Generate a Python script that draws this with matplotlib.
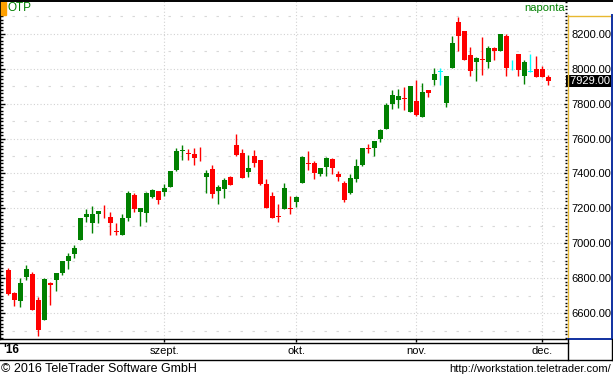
import matplotlib
matplotlib.use('Agg')
import matplotlib.pyplot as plt
import matplotlib.transforms as mtransforms
from matplotlib.lines import Line2D
from matplotlib.patches import Rectangle
from matplotlib.ticker import MultipleLocator, FuncFormatter
import numpy as np

plt.rcParams['font.family'] = ['Liberation Sans', 'DejaVu Sans']

# OTP napi árfolyamok (nyitó, max, min, záró)
opens = [6849, 6719, 6673, 6810, 6826, 6677, 6563, 6776, 6791, 6830,
         6902, 6940, 7020, 7150, 7119, 7170, 7188, 7152, 7068, 7049,
         7146, 7277, 7180, 7176, 7267, 7300, 7294, 7325, 7422, 7527,
         7514, 7512, 7479, 7382, 7426, 7302, 7311, 7380, 7563, 7519,
         7409, 7500, 7477, 7340, 7271, 7155, 7199, 7203, 7239, 7348,
         7460, 7458, 7399, 7436, 7481, 7399, 7348, 7290, 7370, 7450,
         7546, 7544, 7599, 7654, 7799, 7820, 7832, 7753, 7814, 7725,
         7877, 7934, 7982, 7801, 8001, 8264, 8214, 8077, 8037, 8052,
         8035, 8115, 8102, 8186, 8020, 8083, 7959, 7982, 7997, 7997,
         7950]
highs = [6860, 6722, 6803, 6877, 6837, 6696, 6800, 6780, 6832, 6902,
         6944, 6991, 7146, 7197, 7214, 7186, 7220, 7182, 7119, 7169,
         7302, 7290, 7203, 7296, 7311, 7300, 7340, 7416, 7548, 7563,
         7540, 7544, 7553, 7420, 7449, 7334, 7373, 7387, 7626, 7538,
         7506, 7534, 7477, 7367, 7294, 7226, 7346, 7271, 7271, 7500,
         7529, 7471, 7430, 7496, 7489, 7413, 7357, 7397, 7483, 7546,
         7569, 7586, 7652, 7801, 7877, 7883, 7892, 7900, 7934, 7919,
         7877, 8001, 8001, 7957, 8186, 8296, 8214, 8121, 8067, 8178,
         8129, 8125, 8197, 8197, 8049, 8083, 8049, 8083, 8071, 8014,
         7963]
lows = [6705, 6640, 6639, 6791, 6620, 6473, 6560, 6649, 6729, 6820,
        6856, 6915, 7018, 7125, 7062, 7119, 7144, 7049, 7049, 7049,
        7130, 7182, 7100, 7123, 7260, 7226, 7271, 7320, 7416, 7477,
        7477, 7449, 7470, 7290, 7262, 7226, 7262, 7334, 7500, 7373,
        7382, 7439, 7334, 7205, 7148, 7125, 7199, 7169, 7210, 7348,
        7420, 7370, 7386, 7387, 7399, 7359, 7237, 7283, 7351, 7445,
        7519, 7500, 7582, 7652, 7770, 7776, 7763, 7753, 7729, 7721,
        7839, 7904, 7904, 7778, 8001, 8102, 8049, 7959, 7930, 7963,
        8003, 8049, 8102, 7957, 7992, 7957, 7912, 7982, 7953, 7953,
        7906]
closes = [6712, 6677, 6773, 6853, 6620, 6506, 6796, 6765, 6830, 6900,
          6929, 6974, 7144, 7169, 7169, 7186, 7184, 7119, 7064, 7146,
          7290, 7197, 7203, 7290, 7306, 7249, 7317, 7414, 7529, 7531,
          7510, 7489, 7475, 7405, 7281, 7325, 7363, 7334, 7506, 7376,
          7430, 7462, 7340, 7205, 7148, 7151, 7317, 7199, 7264, 7493,
          7456, 7405, 7430, 7487, 7430, 7382, 7247, 7373, 7443, 7546,
          7542, 7586, 7649, 7793, 7849, 7843, 7828, 7900, 7734, 7866,
          7862, 7969, 7982, 7957, 8144, 8188, 8049, 7987, 8058, 8046,
          8115, 8102, 8197, 8005, 8020, 7991, 8039, 7982, 7953, 7953,
          7929]

month_pos = [26, 48, 68, 89]
month_labels = ['szept.', 'okt.', 'nov.', 'dec.']
last_price = 7929.00

W, H = 613, 377
fig = plt.figure(figsize=(W / 100, H / 100), dpi=100)


def fx(px):
    return px / W


def fy(py):
    return 1 - py / H


GREEN = '#008000'
RED = '#ff0000'
CYAN = '#00ffff'
GOLD = '#e8b830'
BLUE = '#1030a0'
GRID = '#d2d2d2'

ax = fig.add_axes([0, fy(339), fx(567), (339 - 1) / H])
ax.set_xlim(-1.38, 93.12)
ax.set_ylim(6454, 8386)

# Rácsvonalak
for v in np.arange(6600, 8400, 200):
    ax.axhline(v, color=GRID, lw=0.8, ls=(0, (1, 2)), zorder=0)
for v in np.arange(6500, 8400, 200):
    ax.axhline(v, color='#d8d8d8', lw=0.8, ls=(0, (2.2, 8.6)), zorder=0)
for m in month_pos:
    ax.axvline(m, color=GRID, lw=0.8, ls=(0, (1, 2)), zorder=0)

# Gyertyák
x = np.arange(len(opens))
o = np.array(opens, float)
c = np.array(closes, float)
cols = np.where(c > o, GREEN, np.where(c < o, RED, CYAN))
ax.vlines(x, lows, highs, colors=cols, lw=1, zorder=2)
hgt = np.maximum(np.abs(c - o), 5)
ax.bar(x, hgt, bottom=(o + c) / 2 - hgt / 2, width=0.8, color=cols,
       edgecolor='none', zorder=3)

# Bal tengely
ax.yaxis.set_major_locator(MultipleLocator(200))
ax.yaxis.set_minor_locator(MultipleLocator(20))
ax.tick_params(axis='y', which='major', direction='in', length=3.6, width=1,
               left=True, right=False, labelleft=False)
ax.tick_params(axis='y', which='minor', direction='in', length=2.2, width=1,
               left=True, right=False)

# Dátum tengely
ax.set_xticks(month_pos, month_labels)
ax.tick_params(axis='x', direction='out', length=2.2, width=1, pad=2.5,
               labelsize=8)
trans = mtransforms.blended_transform_factory(ax.transData, ax.transAxes)
ax.text(0.45, -0.033, "'16", transform=trans, ha='center', va='center',
        fontsize=8.5, fontweight='bold')

for s in ['top', 'right']:
    ax.spines[s].set_visible(False)
ax.spines['left'].set_linewidth(1)
ax.spines['bottom'].set_linewidth(1)

# Jobb tengely
ax2 = ax.twinx()
ax2.set_ylim(ax.get_ylim())
ax2.yaxis.set_major_locator(MultipleLocator(200))
ax2.yaxis.set_minor_locator(MultipleLocator(20))
ax2.yaxis.set_major_formatter(FuncFormatter(lambda v, p: f'{v:.2f}'))
ax2.tick_params(axis='y', which='major', direction='in', length=2.5, width=1,
                pad=3, labelsize=8)
ax2.tick_params(axis='y', which='minor', direction='in', length=1.5, width=1)
for s in ax2.spines.values():
    s.set_visible(False)

trans2 = mtransforms.blended_transform_factory(ax.transAxes, ax.transData)
ax.text(1.0, last_price, f' {last_price:.2f}', transform=trans2, ha='left',
        va='center', fontsize=8, color='white', zorder=10,
        bbox=dict(boxstyle='square,pad=0.12', fc='black', ec='none'))

# Keretek
def fline(x0, y0, x1, y1, color='black', lw=1):
    fig.add_artist(Line2D([fx(x0), fx(x1)], [fy(y0), fy(y1)], color=color,
                          lw=lw, transform=fig.transFigure))

fline(0, 0.7, 613, 0.7, lw=1.4)
fline(567.5, 15, 567.5, 339, color=GOLD)
fline(567.5, 15.5, 611.5, 15.5, color=GOLD)
fline(611.5, 15, 611.5, 339, color=BLUE, lw=1.4)
fline(567.5, 338.5, 611.5, 338.5, color=BLUE, lw=1.4)
fline(0, 342.5, 567.5, 342.5)
fline(567.5, 339, 567.5, 359.5)
fline(611.5, 339, 611.5, 359.5)
fline(0, 359.5, 612, 359.5)

fig.add_artist(Rectangle((fx(0.5), fy(15)), fx(5.5), 14 / H, color='#ffa000',
                         transform=fig.transFigure))
fig.text(fx(8), fy(8), 'OTP', color=GREEN, fontsize=8.5, va='center')
fig.text(fx(565), fy(8), 'naponta', color=GREEN, fontsize=8, va='center',
         ha='right')
fig.text(fx(1), fy(368.5), '\u00a9 2016 TeleTrader Software GmbH', fontsize=9,
         va='center')
fig.text(fx(611), fy(368.5), 'http://workstation.teletrader.com/', fontsize=8,
         va='center', ha='right')

fig.savefig('out.png', dpi=100)
